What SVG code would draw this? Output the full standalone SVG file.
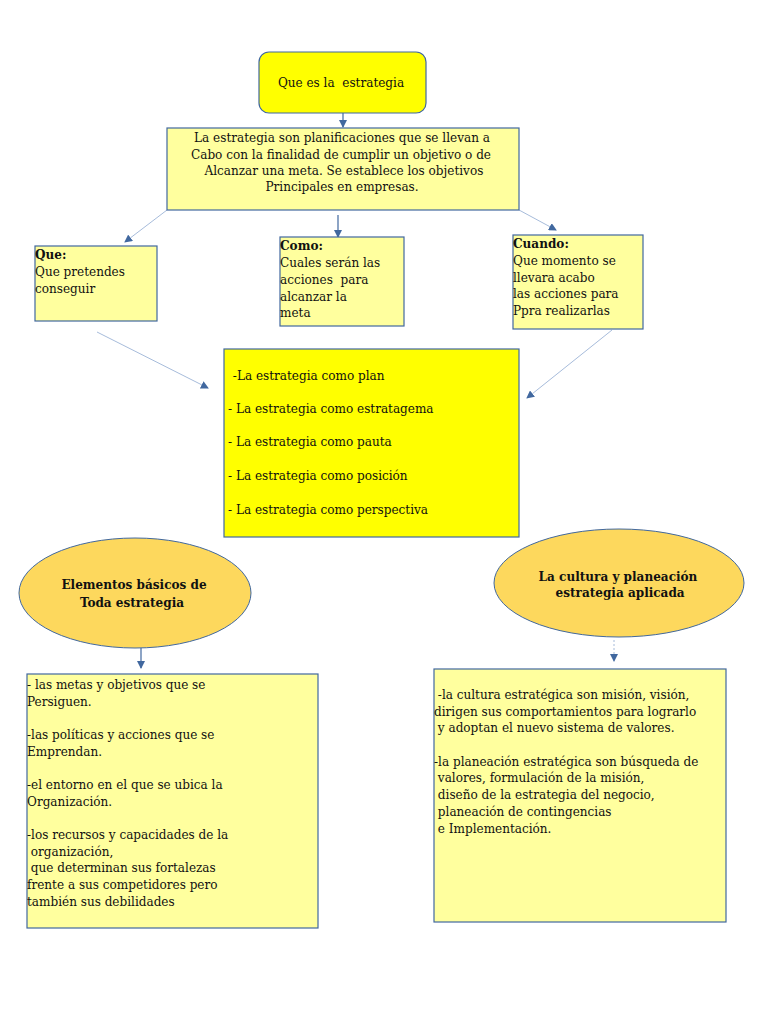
<svg xmlns="http://www.w3.org/2000/svg" width="768" height="1024" viewBox="0 0 768 1024">
<style>
text{font-family:"DejaVu Serif Condensed","DejaVu Serif",serif;font-stretch:condensed;font-size:13.4px;fill:#111;white-space:pre}
.b{font-weight:bold}
.m{text-anchor:middle}
.box{stroke:#41689f;stroke-width:1.2}
.y{fill:#ffff00}
.ly{fill:#ffff9e}
.el{fill:#fdd85d;stroke:#41689f;stroke-width:1}
.c{stroke:#41689f;stroke-width:1.2;fill:none}
.t{stroke:#8fa9d0;stroke-width:0.8;fill:none}
.ah{fill:#41689f}
</style>
<defs>
<marker id="a" markerWidth="8" markerHeight="8" refX="7" refY="4" orient="auto" markerUnits="userSpaceOnUse"><path d="M0,0 L8,4 L0,8 Z" class="ah"/></marker>
</defs>
<g id="connectors">
<line class="c" x1="343" y1="113" x2="343" y2="127" marker-end="url(#a)"/>
<line class="t" x1="167" y1="210" x2="125" y2="242" marker-end="url(#a)"/>
<line class="c" x1="338" y1="215" x2="338" y2="237" marker-end="url(#a)"/>
<line class="t" x1="519" y1="210" x2="556" y2="230" marker-end="url(#a)"/>
<line class="t" x1="97" y1="332" x2="208" y2="388" marker-end="url(#a)"/>
<line class="t" x1="612" y1="330" x2="527" y2="398" marker-end="url(#a)"/>
<line class="c" x1="141" y1="648" x2="141" y2="668" marker-end="url(#a)"/>
<line class="t" x1="614" y1="640" x2="614" y2="661" stroke-dasharray="2,2" marker-end="url(#a)"/>
</g>
<g id="n1">
<rect class="box y" x="259" y="52" width="167" height="61" rx="10"/>
<text class="m" x="341" y="87">Que es la  estrategia</text>
</g>
<g id="n2">
<rect class="box ly" x="167" y="128" width="352" height="82"/>
<text class="m" x="342" y="142">La estrategia son planificaciones que se llevan a</text>
<text class="m" x="341" y="159">Cabo con la finalidad de cumplir un objetivo o de</text>
<text class="m" x="342" y="175"> Alcanzar una meta. Se establece los objetivos</text>
<text class="m" x="342" y="191">Principales en empresas.</text>
</g>
<g id="n3">
<rect class="box ly" x="35" y="246" width="122" height="75"/>
<text class="b" x="35" y="259">Que:</text>
<text x="35" y="276">Que pretendes</text>
<text x="35" y="293">conseguir</text>
</g>
<g id="n4">
<rect class="box ly" x="280" y="237" width="124" height="89"/>
<text class="b" x="280" y="250">Como:</text>
<text x="280" y="267">Cuales serán las</text>
<text x="280" y="284">acciones  para</text>
<text x="280" y="301">alcanzar la</text>
<text x="280" y="317">meta</text>
</g>
<g id="n5">
<rect class="box ly" x="513" y="235" width="130" height="94"/>
<text class="b" x="513" y="248">Cuando:</text>
<text x="513" y="265">Que momento se</text>
<text x="513" y="282">llevara acabo</text>
<text x="513" y="298">las acciones para</text>
<text x="513" y="315">Ppra realizarlas</text>
</g>
<g id="n6">
<rect class="box y" x="224" y="349" width="295" height="188"/>
<text x="229" y="380"> -La estrategia como plan</text>
<text x="228" y="413">- La estrategia como estratagema</text>
<text x="228" y="446">- La estrategia como pauta</text>
<text x="228" y="480">- La estrategia como posición</text>
<text x="228" y="514">- La estrategia como perspectiva</text>
</g>
<g id="n7">
<ellipse class="el" cx="135" cy="593" rx="116" ry="55"/>
<text class="b m" x="134" y="589">Elementos básicos de</text>
<text class="b m" x="132" y="607">Toda estrategia</text>
</g>
<g id="n8">
<ellipse class="el" cx="619" cy="583" rx="125" ry="54"/>
<text class="b m" x="618" y="581">La cultura y planeación</text>
<text class="b m" x="618" y="597"> estrategia aplicada</text>
</g>
<g id="n9">
<rect class="box ly" x="27" y="674" width="291" height="254"/>
<text x="27" y="689">- las metas y objetivos que se</text>
<text x="27" y="706">Persiguen.</text>
<text x="27" y="739">-las políticas y acciones que se</text>
<text x="27" y="756">Emprendan.</text>
<text x="27" y="789">-el entorno en el que se ubica la</text>
<text x="27" y="806">Organización.</text>
<text x="27" y="839">-los recursos y capacidades de la</text>
<text x="27" y="856"> organización,</text>
<text x="27" y="872"> que determinan sus fortalezas</text>
<text x="27" y="889">frente a sus competidores pero</text>
<text x="27" y="906">también sus debilidades</text>
</g>
<g id="n10">
<rect class="box ly" x="434" y="669" width="292" height="253"/>
<text x="434" y="699"> -la cultura estratégica son misión, visión,</text>
<text x="434" y="716">dirigen sus comportamientos para lograrlo</text>
<text x="434" y="732"> y adoptan el nuevo sistema de valores.</text>
<text x="434" y="766">-la planeación estratégica son búsqueda de</text>
<text x="434" y="782"> valores, formulación de la misión,</text>
<text x="434" y="799"> diseño de la estrategia del negocio,</text>
<text x="434" y="816"> planeación de contingencias</text>
<text x="434" y="833"> e Implementación.</text>
</g>
</svg>
